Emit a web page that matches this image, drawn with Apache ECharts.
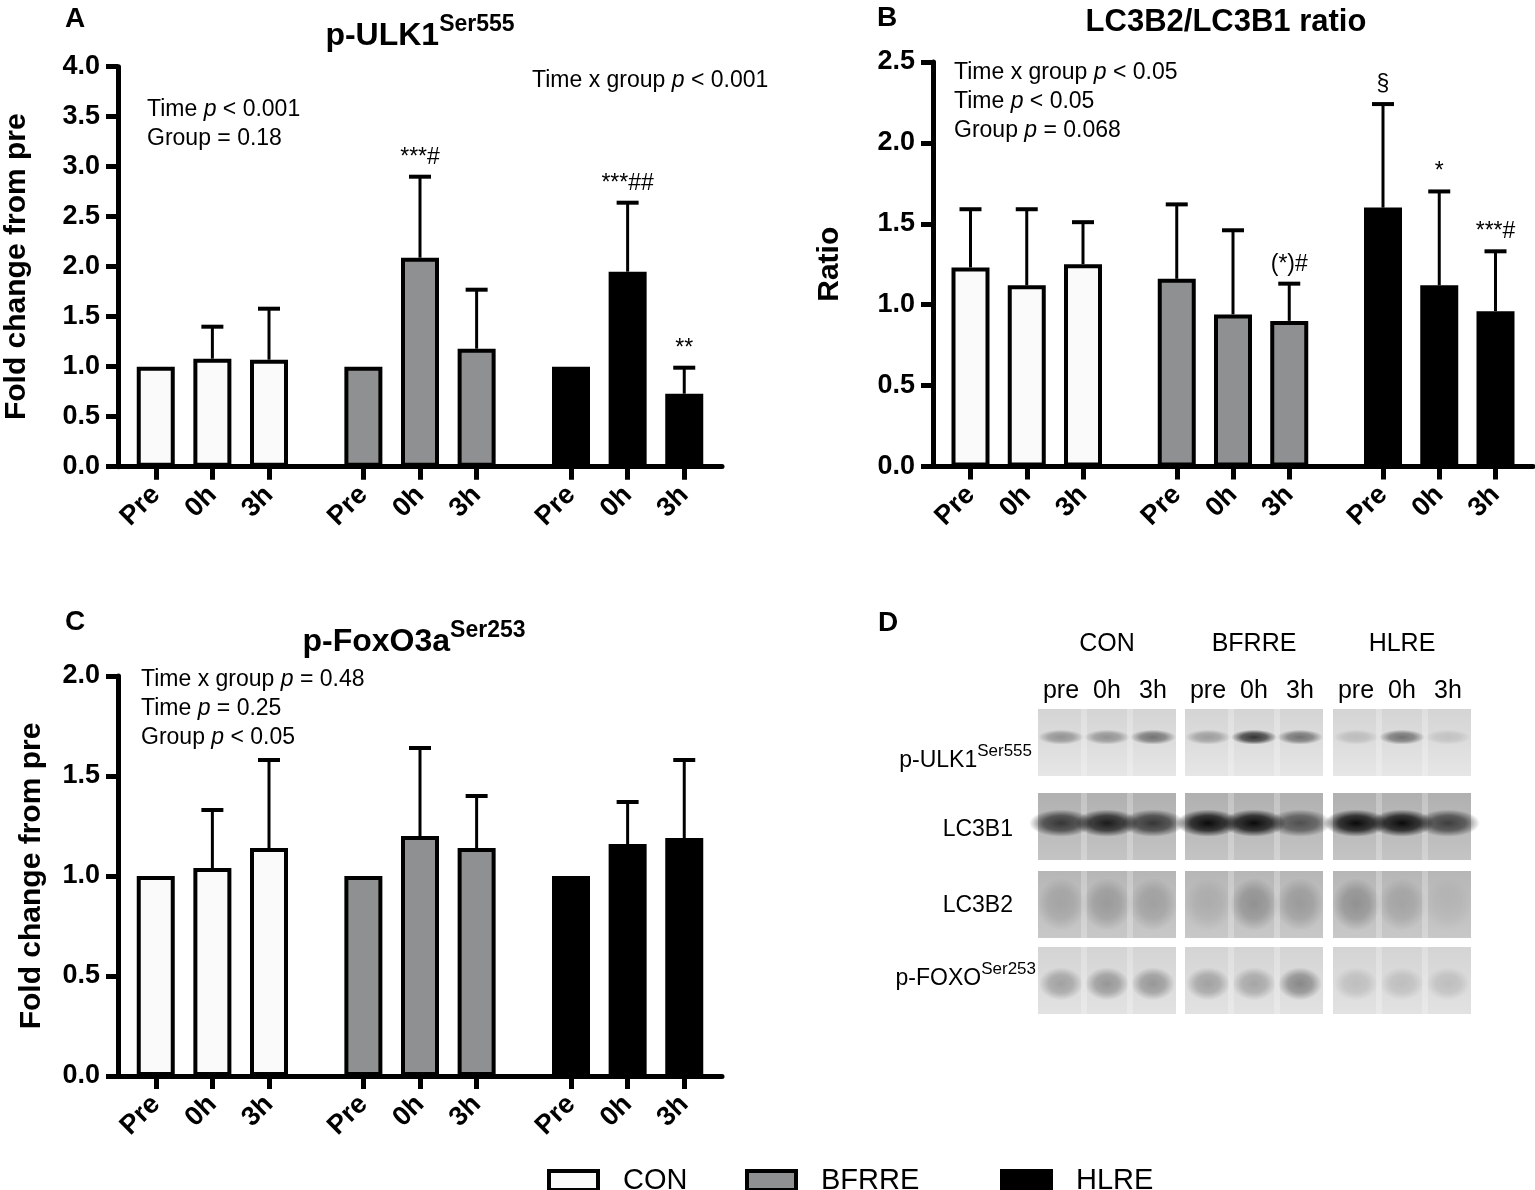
<!DOCTYPE html>
<html>
<head>
<meta charset="utf-8">
<script src="https://cdn.jsdelivr.net/npm/echarts@6/dist/echarts.min.js"></script>
<style>
html, body { margin: 0; padding: 0; background: #fff; }
#main { width: 1535px; height: 1190px; }
</style>
</head>
<body>
<div id="main"></div>
<script>
var times = ['Pre', '0h', '3h'];
var groups = ['CON', 'BFRRE', 'HLRE'];

// A  p-ULK1 Ser555 (rows: CON, BFRRE, HLRE)
var ulkMean  = [[1.00, 1.08, 1.07], [1.00, 2.09, 1.18], [1.00, 1.95, 0.73]];
var ulkSd    = [[0, 0.32, 0.51], [0, 0.81, 0.59], [0, 0.69, 0.26]];
var ulkMarks = [['', '', ''], ['', '***#', ''], ['', '***##', '**']];

// B  LC3B2/LC3B1 ratio
var lcMean  = [[1.23, 1.12, 1.25], [1.16, 0.94, 0.90], [1.60, 1.12, 0.96]];
var lcSd    = [[0.36, 0.47, 0.26], [0.46, 0.52, 0.23], [0.64, 0.58, 0.37]];
var lcMarks = [['', '', ''], ['', '', '(*)#'], ['§', '*', '***#']];

// C  p-FoxO3a Ser253
var foxMean  = [[1.00, 1.04, 1.14], [1.00, 1.20, 1.14], [1.00, 1.16, 1.19]];
var foxSd    = [[0, 0.29, 0.44], [0, 0.44, 0.26], [0, 0.21, 0.39]];
var foxMarks = [['', '', ''], ['', '', ''], ['', '', '']];

// y axis ranges (max) per panel, step 0.5
var yMaxA = 4.0, yMaxB = 2.5, yMaxC = 2.0;

// D  blot band darkness per lane (CON pre/0h/3h, BFRRE ..., HLRE ...)
var blotNames = ['p-ULK1', 'LC3B1', 'LC3B2', 'p-FOXO'];
var blotUlk = [0.35, 0.35, 0.5, 0.3, 0.8, 0.5, 0.15, 0.5, 0.12];
var blotLc1 = [0.75, 0.9, 0.75, 1.0, 1.0, 0.6, 1.0, 1.0, 0.7];
var blotLc2 = [0.15, 0.2, 0.17, 0.1, 0.25, 0.2, 0.25, 0.15, 0.06];
var blotFox = [0.28, 0.33, 0.33, 0.28, 0.26, 0.4, 0.14, 0.14, 0.14];

var FONT = '"Liberation Sans", Arial, Helvetica, sans-serif';
var fills = ['#fafafa', '#8e9091', '#000000'];

// category slots: 3 slots between bars, 5 between groups
var SLOTS = 33;
function slotOf(g, t) { return 2 + g * 11 + t * 3; }
var slotLabels = [], slotIds = [];
for (var i = 0; i < SLOTS; i++) { slotLabels.push(''); slotIds.push(String(i)); }
groups.forEach(function (g, gi) {
	times.forEach(function (t, ti) { slotLabels[slotOf(gi, ti)] = t; });
});
function isBarSlot(idx) { return slotLabels[idx] !== ''; }

var grids = [
	{ left: 118, top: 66.7, width: 604, height: 400 },
	{ left: 933, top: 62, width: 600, height: 404.5 },
	{ left: 118, top: 676, width: 604, height: 400 }
];

function xAxisFor(gi) {
	return {
		gridIndex: gi, type: 'category', data: slotIds, boundaryGap: false,
		axisLine: { lineStyle: { color: '#000', width: 5 } },
		axisTick: { interval: isBarSlot, length: 13, lineStyle: { color: '#000', width: 5 } },
		axisLabel: {
			interval: isBarSlot, rotate: 45, margin: 24,
			formatter: function (v) { return slotLabels[+v]; },
			fontSize: 27, fontWeight: 'bold', color: '#000', fontFamily: FONT
		},
		splitLine: { show: false }
	};
}
function yAxisFor(gi, max, name, gap) {
	return {
		gridIndex: gi, type: 'value', min: 0, max: max, interval: 0.5,
		name: name, nameLocation: 'middle', nameGap: gap,
		nameTextStyle: { fontSize: 30, fontWeight: 'bold', color: '#000', fontFamily: FONT },
		axisLine: { show: true, lineStyle: { color: '#000', width: 5 } },
		axisTick: { show: true, length: 12, lineStyle: { color: '#000', width: 5 } },
		axisLabel: {
			margin: 18, fontSize: 27, fontWeight: 'bold', color: '#000', fontFamily: FONT,
			formatter: function (v) { return v.toFixed(1); }
		},
		splitLine: { show: false }
	};
}

function barSeries(gi, mean) {
	return groups.map(function (g, k) {
		var d = [];
		for (var i = 0; i < SLOTS; i++) d.push('-');
		times.forEach(function (t, ti) { d[slotOf(k, ti)] = mean[k][ti]; });
		return {
			name: g, type: 'bar', xAxisIndex: gi, yAxisIndex: gi,
			data: d, barWidth: 38, barGap: '-100%',
			itemStyle: { color: fills[k], borderColor: '#000', borderWidth: 4 },
			emphasis: { disabled: true }
		};
	});
}
function errSeries(gi, mean, sd, marks) {
	var d = [], m = [];
	groups.forEach(function (g, k) {
		times.forEach(function (t, ti) {
			d.push([slotOf(k, ti), mean[k][ti], sd[k][ti]]);
			m.push(marks[k][ti]);
		});
	});
	return {
		type: 'custom', xAxisIndex: gi, yAxisIndex: gi, z: 5, silent: true,
		encode: { x: 0, y: 1 }, data: d,
		renderItem: function (params, api) {
			var x = api.value(0), mv = api.value(1), s = api.value(2);
			var base = api.coord([x, mv]);
			var top = api.coord([x, mv + s]);
			var kids = [];
			if (s > 0) {
				kids.push({ type: 'line', shape: { x1: base[0], y1: base[1], x2: top[0], y2: top[1] }, style: { stroke: '#000', lineWidth: 3 } });
				kids.push({ type: 'line', shape: { x1: top[0] - 11, y1: top[1], x2: top[0] + 11, y2: top[1] }, style: { stroke: '#000', lineWidth: 4 } });
			}
			var mk = m[params.dataIndex];
			if (mk) {
				kids.push({ type: 'text', x: top[0], y: top[1] - 8,
					style: { text: mk, textAlign: 'center', textVerticalAlign: 'bottom', fill: '#000', font: '23px ' + FONT } });
			}
			return { type: 'group', children: kids };
		}
	};
}

// text helpers
var rich = {
	n: { fontSize: 23, fontFamily: FONT, color: '#000' },
	i: { fontSize: 23, fontFamily: FONT, fontStyle: 'italic', color: '#000' }
};
function stat(x, y, str) {
	return { type: 'text', x: x, y: y, silent: true,
		style: { text: str, rich: rich, textAlign: 'left', textVerticalAlign: 'middle', fill: '#000', font: '23px ' + FONT } };
}
function plain(x, y, str, size, weight, align) {
	return { type: 'text', x: x, y: y, silent: true,
		style: { text: str, textAlign: align || 'left', textVerticalAlign: 'middle', fill: '#000',
			font: (weight || 'normal') + ' ' + size + 'px ' + FONT } };
}
function titleSup(x, y, main, sup, size, supSize, weight) {
	return { type: 'text', x: x, y: y, silent: true,
		style: {
			text: '{m|' + main + '}{s|' + sup + '}', textAlign: 'center', textVerticalAlign: 'bottom',
			rich: {
				m: { fontSize: size, fontWeight: weight, fontFamily: FONT, color: '#000', verticalAlign: 'bottom' },
				s: { fontSize: supSize, fontWeight: weight, fontFamily: FONT, color: '#000', verticalAlign: 'top', padding: [0, 0, Math.round(size * 0.5), 0] }
			}
		} };
}
function rowLabel(xr, y, main, sup) {
	var el = titleSup(xr, y, main, sup, 23, 17, 'normal');
	el.style.textAlign = 'right';
	return el;
}

var graphics = [
	plain(65, 19, 'A', 28, 'bold'),
	plain(877, 18, 'B', 28, 'bold'),
	plain(65, 622, 'C', 28, 'bold'),
	plain(878, 623, 'D', 28, 'bold'),
	titleSup(420, 52, 'p-ULK1', 'Ser555', 32, 23, 'bold'),
	plain(1226, 22, 'LC3B2/LC3B1 ratio', 31, 'bold', 'center'),
	titleSup(414, 658, 'p-FoxO3a', 'Ser253', 32, 23, 'bold'),
	stat(147, 110, '{n|Time }{i|p}{n| < 0.001}'),
	stat(147, 139, '{n|Group = 0.18}'),
	stat(532, 81, '{n|Time x group }{i|p}{n| < 0.001}'),
	stat(954, 73, '{n|Time x group }{i|p}{n| < 0.05}'),
	stat(954, 102, '{n|Time }{i|p}{n| < 0.05}'),
	stat(954, 131, '{n|Group }{i|p}{n| = 0.068}'),
	stat(141, 680, '{n|Time x group }{i|p}{n| = 0.48}'),
	stat(141, 709, '{n|Time }{i|p}{n| = 0.25}'),
	stat(141, 738, '{n|Group }{i|p}{n| < 0.05}')
];

// panel D: blot strips drawn as shaded blocks with blurred bands
var blockX = [1038, 1185, 1333], blockW = 138, laneW = 46;
var rowY = [709, 793, 871, 947], rowH = 67;
var rowBg = [['#d4d4d4', '#e6e6e6'], ['#b0b0b0', '#c4c4c4'], ['#b6b6b6', '#c8c8c8'], ['#d4d4d4', '#e2e2e2']];
var rowBand = [
	{ vals: blotUlk, fy: 0.42, sx: 1.05, sy: 0.34 },
	{ vals: blotLc1, fy: 0.45, sx: 1.45, sy: 0.62 },
	{ vals: blotLc2, fy: 0.5, sx: 1.1, sy: 1.2 },
	{ vals: blotFox, fy: 0.55, sx: 1.0, sy: 0.75 }
];
groups.forEach(function (g, gi) {
	graphics.push(plain(blockX[gi] + blockW / 2, 644, g, 25, 'normal', 'center'));
	['pre', '0h', '3h'].forEach(function (t, ti) {
		graphics.push(plain(blockX[gi] + laneW / 2 + ti * laneW, 691, t, 25, 'normal', 'center'));
	});
	blotNames.forEach(function (nm, ri) {
		graphics.push({ type: 'rect', silent: true,
			shape: { x: blockX[gi], y: rowY[ri], width: blockW, height: rowH },
			style: { fill: new echarts.graphic.LinearGradient(0, 0, 0, 1, [
				{ offset: 0, color: rowBg[ri][0] }, { offset: 1, color: rowBg[ri][1] }]) } });
		for (var ti = 1; ti < 3; ti++) {
			graphics.push({ type: 'rect', silent: true,
				shape: { x: blockX[gi] + ti * laneW - 3, y: rowY[ri], width: 6, height: rowH },
				style: { fill: 'rgba(255,255,255,0.25)' } });
		}
		var b = rowBand[ri];
		for (var tj = 0; tj < 3; tj++) {
			var a = b.vals[gi * 3 + tj];
			graphics.push({ type: 'circle', silent: true,
				x: blockX[gi] + laneW / 2 + tj * laneW, y: rowY[ri] + rowH * b.fy,
				scaleX: b.sx, scaleY: b.sy,
				shape: { cx: 0, cy: 0, r: 22 },
				style: { fill: new echarts.graphic.RadialGradient(0.5, 0.5, 0.5, [
					{ offset: 0, color: 'rgba(10,10,10,' + a + ')' },
					{ offset: 0.55, color: 'rgba(10,10,10,' + (a * 0.75) + ')' },
					{ offset: 1, color: 'rgba(10,10,10,0)' }]) } });
		}
	});
});
graphics.push(rowLabel(1032, 772, 'p-ULK1', 'Ser555'));
graphics.push(plain(1013, 830, 'LC3B1', 23, 'normal', 'right'));
graphics.push(plain(1013, 906, 'LC3B2', 23, 'normal', 'right'));
graphics.push(rowLabel(1036, 990, 'p-FOXO', 'Ser253'));

function legendFor(k, left) {
	return {
		data: [groups[k]], left: left, top: 1166, padding: 0, icon: 'rect',
		itemWidth: 49, itemHeight: 19, selectedMode: false,
		itemStyle: { color: fills[k], borderColor: '#000', borderWidth: 4 },
		textStyle: { fontSize: 29, color: '#000', fontFamily: FONT, padding: [0, 0, 0, 20] }
	};
}

var myChart = echarts.init(document.getElementById('main'));
var option = {
	animation: false,
	textStyle: { fontFamily: FONT },
	grid: grids,
	xAxis: [xAxisFor(0), xAxisFor(1), xAxisFor(2)],
	yAxis: [
		yAxisFor(0, yMaxA, 'Fold change from pre', 86),
		yAxisFor(1, yMaxB, 'Ratio', 88),
		yAxisFor(2, yMaxC, 'Fold change from pre', 71)
	],
	legend: [legendFor(0, 547), legendFor(1, 745), legendFor(2, 1000)],
	graphic: graphics,
	series: [].concat(
		barSeries(0, ulkMean), [errSeries(0, ulkMean, ulkSd, ulkMarks)],
		barSeries(1, lcMean), [errSeries(1, lcMean, lcSd, lcMarks)],
		barSeries(2, foxMean), [errSeries(2, foxMean, foxSd, foxMarks)]
	)
};
myChart.setOption(option);
</script>
</body>
</html>
